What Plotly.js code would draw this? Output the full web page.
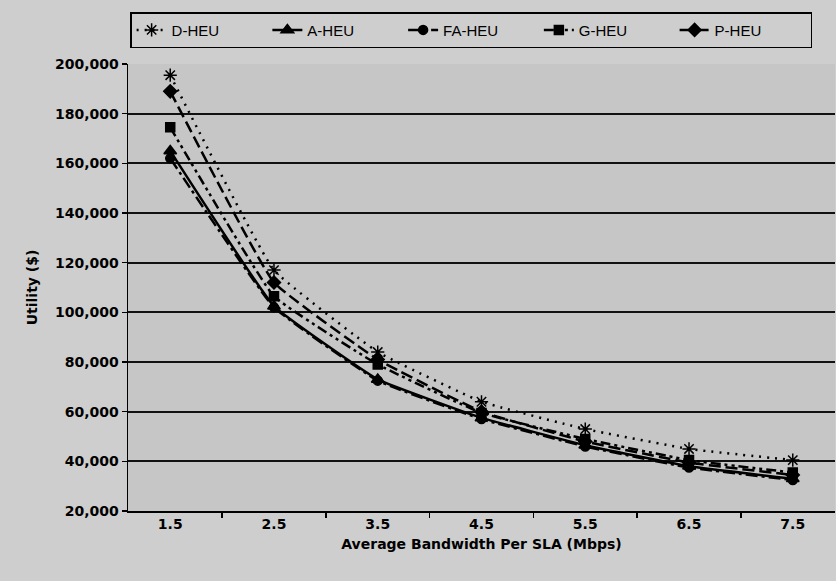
<!DOCTYPE html>
<html>
<head>
<meta charset="utf-8">
<script src="https://cdn.plot.ly/plotly-3.0.1.min.js"></script>
<style>
  html, body { margin: 0; padding: 0; background: #cecece; }
  #chart { width: 836px; height: 581px; }
</style>
</head>
<body>
<div id="chart"></div>
<script>
// Average bandwidth per SLA (Mbps), plotted as categories
const bandwidth = ["1.5", "2.5", "3.5", "4.5", "5.5", "6.5", "7.5"];

// Utility ($) for each heuristic
const dHeu  = [195500, 117000, 84000, 64000, 53000, 45000, 40500];
const aHeu  = [165000, 102500, 73000, 57500, 46500, 38000, 33000];
const faHeu = [162000, 102000, 72500, 57000, 46000, 37500, 32500];
const gHeu  = [174500, 106500, 79000, 59500, 49000, 40500, 35500];
const pHeu  = [189000, 112000, 81000, 60000, 48000, 39500, 34500];

const yTicks = [20000, 40000, 60000, 80000, 100000, 120000, 140000, 160000, 180000, 200000];

function series(name, values, dash, symbol, size) {
  return {
    x: bandwidth,
    y: values,
    name: name,
    type: "scatter",
    mode: "lines+markers",
    line: { color: "#000", width: 2.5, dash: dash, shape: "spline", smoothing: 0.3 },
    marker: { color: "#000", symbol: symbol, size: size, line: { color: "#000", width: 1.5 } }
  };
}

const data = [
  series("D-HEU", dHeu, "2px,6px", "asterisk-open", 11),
  series("A-HEU", aHeu, "solid", "triangle-up", 11),
  series("FA-HEU", faHeu, "12px,4px,3px,4px", "circle", 9),
  series("G-HEU", gHeu, "10px,4px,3px,4px,3px,4px", "square", 9),
  series("P-HEU", pHeu, "12px,5px", "diamond", 10)
];

const labelFont = "DejaVu Sans, Verdana, sans-serif";
const legendFont = "Liberation Sans, Arial, sans-serif";

const layout = {
  width: 836,
  height: 581,
  paper_bgcolor: "#cecece",
  plot_bgcolor: "#c6c6c6",
  margin: { l: 128, r: 1, t: 64, b: 70 },
  font: { family: labelFont, color: "#000" },
  showlegend: true,
  legend: {
    orientation: "h",
    x: 0.003, xanchor: "left",
    y: 1.116, yanchor: "top",
    bgcolor: "#cecece",
    bordercolor: "#000",
    borderwidth: 1.5,
    font: { family: legendFont, size: 15, color: "#000" },
    entrywidth: 0.192,
    entrywidthmode: "fraction",
    traceorder: "normal"
  },
  xaxis: {
    type: "category",
    tickson: "boundaries",
    ticks: "outside",
    ticklen: 5,
    tickcolor: "#000",
    tickwidth: 1.5,
    showline: true,
    linecolor: "#000",
    linewidth: 1.5,
    showgrid: false,
    zeroline: false,
    tickfont: { family: labelFont, size: 14, color: "#000", weight: "bold" },
    title: {
      text: "Average Bandwidth Per SLA (Mbps)",
      font: { family: labelFont, size: 14, color: "#000", weight: "bold" },
      standoff: 8
    }
  },
  yaxis: {
    range: [20000, 200000],
    tickvals: yTicks,
    tickformat: ",",
    ticks: "outside",
    ticklen: 5,
    tickcolor: "#000",
    tickwidth: 1.5,
    showline: true,
    linecolor: "#000",
    linewidth: 1.5,
    showgrid: true,
    gridcolor: "#111",
    gridwidth: 2,
    zeroline: false,
    tickfont: { family: labelFont, size: 14, color: "#000", weight: "bold" },
    title: {
      text: "Utility ($)",
      font: { family: labelFont, size: 14, color: "#000", weight: "bold" },
      standoff: 14
    }
  }
};

Plotly.newPlot("chart", data, layout, { displayModeBar: false, staticPlot: true });
</script>
</body>
</html>
